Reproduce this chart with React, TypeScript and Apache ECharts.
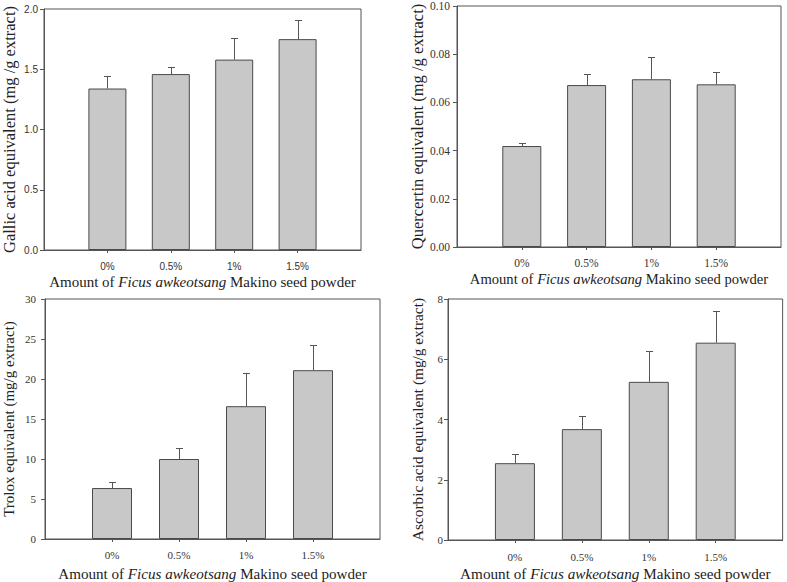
import React, { useEffect, useRef } from "react";
import * as echarts from "echarts";

const categories = ["0%", "0.5%", "1%", "1.5%"];

const gallicMean = [1.34, 1.46, 1.58, 1.75];
const gallicErr = [0.1, 0.06, 0.18, 0.16];

const quercetinMean = [0.0419, 0.0672, 0.0696, 0.0675];
const quercetinErr = [0.0011, 0.0045, 0.0091, 0.0052];

const troloxMean = [6.37, 10.0, 16.6, 21.1];
const troloxErr = [0.75, 1.4, 4.1, 3.2];

const ascorbicMean = [2.55, 3.68, 5.25, 6.55];
const ascorbicErr = [0.29, 0.42, 1.01, 1.06];

const xTitle = "{n|Amount of }{i|Ficus awkeotsang}{n| Makino seed powder}";

const SERIF = "'Liberation Serif', 'Times New Roman', serif";
const SANS = "'Liberation Sans', Arial, sans-serif";
const LINE = "#555555";

type Panel = {
  grid: { left: number; top: number; width: number; height: number };
  yName: string;
  yMax: number;
  yStep: number;
  decimals: number;
  means: number[];
  errs: number[];
  barWidth: number;
  tickFont: string;
  tickSize: number;
  yLabelMargin: number;
  yGap: number;
  yNameSize: number;
  xNameSize: number;
  xLabelMargin: number;
  xNameGap: number;
};

const panels: Panel[] = [
  {
    grid: { left: 44, top: 9, width: 317, height: 241 },
    yName: "Gallic acid equivalent (mg /g extract)",
    yMax: 2,
    yStep: 0.5,
    decimals: 1,
    means: gallicMean,
    errs: gallicErr,
    barWidth: 38,
    tickFont: SANS,
    tickSize: 10,
    yLabelMargin: 6,
    yGap: 26,
    yNameSize: 16.5,
    xNameSize: 15,
    xLabelMargin: 11,
    xNameGap: 24,
  },
  {
    grid: { left: 457, top: 5, width: 324, height: 242 },
    yName: "Quercertin equivalent (mg /g extract)",
    yMax: 0.1,
    yStep: 0.02,
    decimals: 2,
    means: quercetinMean,
    errs: quercetinErr,
    barWidth: 39,
    tickFont: SERIF,
    tickSize: 11.5,
    yLabelMargin: 7,
    yGap: 30,
    yNameSize: 16.5,
    xNameSize: 14.6,
    xLabelMargin: 10,
    xNameGap: 24,
  },
  {
    grid: { left: 43, top: 299, width: 337, height: 241 },
    yName: "Trolox equivalent (mg/g extract)",
    yMax: 30,
    yStep: 5,
    decimals: 0,
    means: troloxMean,
    errs: troloxErr,
    barWidth: 40,
    tickFont: SERIF,
    tickSize: 11,
    yLabelMargin: 9,
    yGap: 29,
    yNameSize: 15,
    xNameSize: 15.1,
    xLabelMargin: 10,
    xNameGap: 27,
  },
  {
    grid: { left: 448, top: 299, width: 335, height: 242 },
    yName: "Ascorbic acid equivalent (mg/g extract)",
    yMax: 8,
    yStep: 2,
    decimals: 0,
    means: ascorbicMean,
    errs: ascorbicErr,
    barWidth: 40,
    tickFont: SERIF,
    tickSize: 11,
    yLabelMargin: 5,
    yGap: 23,
    yNameSize: 15.3,
    xNameSize: 15.2,
    xLabelMargin: 11,
    xNameGap: 26,
  },
];

export default function App() {
  const ref = useRef<HTMLDivElement>(null);

  useEffect(() => {
    if (!ref.current) return;
    const chart = echarts.init(ref.current, null, { renderer: "svg" });
    const axisCats = ["", ...categories, " "];

    const grids: any[] = [];
    const xAxes: any[] = [];
    const yAxes: any[] = [];
    const series: any[] = [];

    panels.forEach((p, gi) => {
      grids.push({
        ...p.grid,
        show: true,
        borderColor: LINE,
        borderWidth: 1,
        backgroundColor: "transparent",
        containLabel: false,
      });
      xAxes.push({
        type: "category",
        gridIndex: gi,
        data: axisCats,
        boundaryGap: false,
        axisLine: { show: true, lineStyle: { color: LINE, width: 1 } },
        axisTick: {
          show: true,
          length: 3,
          inside: false,
          lineStyle: { color: LINE },
          interval: (idx: number) => idx >= 1 && idx <= categories.length,
        },
        axisLabel: {
          interval: 0,
          margin: p.xLabelMargin,
          fontFamily: p.tickFont,
          fontSize: p.tickSize,
          color: "#333",
        },
        splitLine: { show: false },
        name: xTitle,
        nameLocation: "middle",
        nameGap: p.xNameGap,
        nameTextStyle: {
          rich: {
            n: { fontFamily: SERIF, fontSize: p.xNameSize, color: "#222" },
            i: {
              fontFamily: SERIF,
              fontSize: p.xNameSize,
              fontStyle: "italic",
              color: "#222",
            },
          },
        },
      });
      yAxes.push({
        type: "value",
        gridIndex: gi,
        min: 0,
        max: p.yMax,
        interval: p.yStep,
        axisLine: { show: true, lineStyle: { color: LINE, width: 1 } },
        axisTick: { show: true, length: 4, inside: false, lineStyle: { color: LINE } },
        axisLabel: {
          margin: p.yLabelMargin,
          fontFamily: p.tickFont,
          fontSize: p.tickSize,
          color: "#333",
          formatter: (v: number) => v.toFixed(p.decimals),
        },
        splitLine: { show: false },
        name: p.yName,
        nameLocation: "middle",
        nameRotate: 90,
        nameGap: p.yGap,
        nameTextStyle: { fontFamily: SERIF, fontSize: p.yNameSize, color: "#222" },
      });
      series.push({
        type: "bar",
        xAxisIndex: gi,
        yAxisIndex: gi,
        barWidth: p.barWidth,
        data: p.means.map((m, i) => [i + 1, m]),
        itemStyle: { color: "#c8c8c8", borderColor: "#4a4a4a", borderWidth: 1 },
        silent: true,
      });
      series.push({
        type: "custom",
        xAxisIndex: gi,
        yAxisIndex: gi,
        z: 5,
        silent: true,
        data: p.means.map((m, i) => [i + 1, m, p.errs[i]]),
        encode: { x: 0, y: 1 },
        renderItem: (_params: any, api: any) => {
          const x = api.value(0);
          const m = api.value(1);
          const e = api.value(2);
          const base = api.coord([x, m]);
          const top = api.coord([x, m + e]);
          const cx = Math.round(base[0]) + 0.5;
          const ty = Math.round(top[1]) + 0.5;
          return {
            type: "group",
            children: [
              {
                type: "line",
                shape: { x1: cx, y1: base[1], x2: cx, y2: ty },
                style: { stroke: LINE, lineWidth: 1 },
              },
              {
                type: "line",
                shape: { x1: cx - 3.5, y1: ty, x2: cx + 3.5, y2: ty },
                style: { stroke: LINE, lineWidth: 1 },
              },
            ],
          };
        },
      });
    });

    chart.setOption({
      animation: false,
      backgroundColor: "#ffffff",
      grid: grids,
      xAxis: xAxes,
      yAxis: yAxes,
      series,
    });

    return () => chart.dispose();
  }, []);

  return (
    <div
      ref={ref}
      style={{ position: "absolute", left: 0, top: 0, width: 787, height: 582 }}
    />
  );
}
